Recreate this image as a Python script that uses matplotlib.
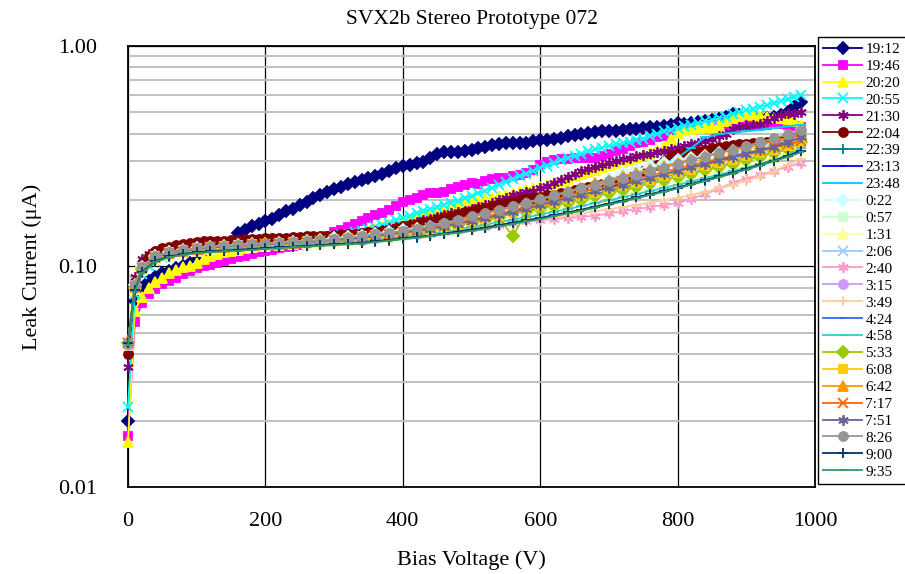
import matplotlib
matplotlib.use("Agg")
import matplotlib.pyplot as plt
from matplotlib.ticker import FixedLocator, NullFormatter

plt.rcParams['font.family'] = ['Liberation Serif', 'DejaVu Serif']

# bias voltage grids (V); the six loud series were read every 10 V, the band every 20 V
VOLTS_FINE = list(range(0, 990, 10))
VOLTS_COARSE = [0, 10] + list(range(20, 1000, 20))

# leak current, in units of 0.001 uA
I_1912 = [20, 70, 80, 86, 90, 93, 95, 98, 101, 104,
          107, 110, 113, 117, 122, 128, 142, 147, 152, 156,
          160, 165, 172, 178, 183, 190, 197, 205, 212, 218,
          224, 230, 236, 241, 246, 251, 256, 264, 270, 280,
          287, 290, 294, 298, 310, 325, 330, 331, 332, 335,
          338, 345, 350, 355, 361, 362, 363, 362, 364, 370,
          373, 376, 380, 384, 390, 395, 400, 405, 408, 410,
          412, 413, 416, 419, 421, 424, 428, 430, 432, 438,
          446, 443, 448, 452, 455, 462, 468, 475, 490, 488,
          480, 472, 470, 472, 478, 485, 500, 530, 560]
I_1946 = [17, 56, 68, 75, 79, 83, 86, 89, 92, 95,
          98, 100, 102, 104, 106, 108, 110, 112, 114, 116,
          118, 119, 121, 122, 124, 125, 128, 130, 133, 138,
          144, 147, 151, 156, 160, 166, 172, 174, 181, 189,
          196, 200, 205, 210, 216, 215, 218, 225, 230, 235,
          238, 237, 243, 250, 253, 252, 256, 260, 266, 275,
          288, 298, 303, 306, 308, 310, 312, 312, 312, 318,
          325, 333, 342, 352, 362, 368, 375, 385, 392, 400,
          408, 415, 422, 428, 432, 436, 435, 433, 436, 438,
          436, 435, 438, 440, 445, 442, 440, 435, 430]
I_2020 = [16, 63, 73, 80, 85, 89, 93, 96, 99, 101,
          104, 108, 112, 114, 116, 118, 119, 121, 122, 124,
          125, 126, 127, 128, 129, 130, 131, 132, 133, 134,
          135, 136, 138, 140, 142, 145, 148, 151, 154, 157,
          160, 163, 166, 169, 172, 176, 180, 184, 188, 192,
          196, 199, 202, 205, 208, 212, 215, 218, 222, 226,
          230, 235, 240, 245, 250, 256, 262, 268, 275, 282,
          290, 294, 298, 305, 312, 320, 328, 336, 350, 380,
          405, 415, 420, 425, 428, 430, 440, 455, 470, 480,
          490, 485, 480, 475, 470, 472, 468, 455, 440]
I_2055 = [23, 75, 92, 101, 106, 110, 113, 115, 117, 118,
          120, 121, 122, 123, 124, 125, 126, 126, 127, 128,
          128, 129, 130, 130, 131, 132, 133, 134, 135, 136,
          137, 139, 141, 143, 145, 148, 151, 154, 158, 162,
          166, 170, 174, 178, 182, 186, 191, 195, 199, 204,
          209, 215, 221, 228, 235, 242, 250, 257, 264, 272,
          280, 287, 295, 303, 311, 318, 325, 333, 340, 346,
          352, 358, 362, 368, 374, 380, 390, 400, 410, 418,
          425, 432, 440, 447, 455, 462, 470, 478, 490, 500,
          510, 520, 530, 540, 552, 562, 575, 590, 600]
I_2130 = [35, 90, 108, 114, 117, 119, 121, 122, 123, 124,
          125, 126, 127, 127, 128, 128, 129, 129, 130, 130,
          131, 131, 132, 132, 133, 134, 134, 135, 136, 137,
          138, 139, 140, 141, 142, 144, 145, 147, 149, 151,
          153, 156, 159, 162, 165, 168, 171, 174, 176, 179,
          182, 186, 190, 195, 200, 205, 210, 214, 217, 220,
          226, 232, 240, 248, 255, 262, 270, 276, 282, 288,
          295, 300, 306, 312, 316, 320, 325, 330, 335, 340,
          346, 352, 358, 364, 372, 380, 390, 400, 420, 430,
          435, 440, 445, 455, 470, 485, 495, 490, 500]
I_2204 = [40, 85, 104, 112, 117, 121, 123, 125, 127, 128,
          129, 130, 130, 131, 131, 132, 132, 133, 133, 133,
          134, 134, 135, 135, 136, 136, 137, 137, 138, 138,
          139, 140, 141, 141, 142, 143, 144, 145, 147, 149,
          152, 154, 156, 159, 161, 164, 167, 170, 173, 176,
          179, 182, 185, 188, 191, 194, 197, 200, 203, 205,
          207, 210, 212, 215, 218, 222, 226, 229, 233, 236,
          240, 245, 250, 256, 262, 270, 280, 290, 302, 318,
          325, 328, 331, 335, 339, 343, 347, 351, 355, 358,
          361, 364, 366, 368, 370, 372, 375, 378, 382]

I_2239 = [44, 76, 93, 105, 110, 113, 115, 117, 118, 119, 120, 121, 122, 123, 124, 125,
          126, 127, 128, 129, 131, 133, 135, 137, 140, 143, 146, 149, 153, 157, 161, 165,
          170, 175, 180, 186, 192, 198, 205, 212, 219, 227, 236, 245, 255, 265, 276, 288,
          301, 322, 338]
I_2313 = [44, 80, 98, 110, 115, 118, 120, 122, 123, 124, 125, 126, 127, 128, 129, 130,
          132, 133, 135, 137, 139, 142, 145, 148, 152, 156, 160, 165, 170, 176, 182, 188,
          195, 202, 209, 216, 224, 232, 241, 250, 259, 269, 279, 290, 301, 313, 325, 338,
          355, 380, 408]
I_2348 = [44, 81, 99, 111, 116, 119, 121, 123, 124, 125, 126, 127, 128, 129, 130, 132,
          134, 136, 138, 141, 144, 147, 150, 154, 158, 163, 168, 174, 180, 187, 194, 201,
          209, 217, 226, 235, 245, 252, 262, 275, 292, 312, 345, 385, 398, 405, 410, 418,
          425, 432, 440]
I_0022 = [45, 82, 99, 111, 116, 119, 121, 123, 124, 125, 126, 127, 128, 129, 130, 132,
          134, 136, 138, 140, 143, 146, 148, 151, 154, 157, 160, 163, 166, 170, 174, 178,
          185, 195, 210, 225, 250, 265, 275, 285, 295, 303, 310, 318, 326, 334, 342, 350,
          360, 370, 385]
I_0057 = [45, 81, 99, 111, 116, 119, 121, 123, 124, 125, 126, 127, 128, 129, 130, 131,
          133, 135, 137, 139, 142, 145, 147, 150, 153, 157, 161, 165, 169, 174, 179, 184,
          190, 196, 202, 208, 215, 222, 229, 237, 245, 253, 262, 271, 280, 290, 300, 311,
          323, 340, 362]
I_0131 = [44, 79, 96, 108, 113, 116, 118, 120, 121, 122, 123, 124, 125, 126, 127, 128,
          130, 131, 132, 134, 136, 139, 141, 144, 147, 151, 155, 159, 163, 167, 172, 177,
          182, 188, 194, 200, 206, 213, 220, 227, 235, 243, 251, 260, 269, 279, 289, 300,
          312, 325, 348]
I_0206 = [45, 82, 99, 110, 115, 118, 120, 122, 123, 124, 125, 126, 127, 128, 129, 130,
          132, 133, 135, 137, 140, 143, 146, 149, 153, 157, 162, 167, 172, 178, 184, 190,
          197, 204, 211, 218, 226, 234, 243, 252, 261, 271, 281, 292, 303, 315, 327, 340,
          356, 377, 405]
I_0240 = [45, 80, 97, 108, 113, 116, 118, 120, 121, 122, 123, 124, 125, 126, 127, 128,
          129, 130, 131, 133, 135, 137, 139, 141, 143, 146, 149, 151, 154, 157, 160, 162,
          164, 166, 168, 170, 174, 178, 182, 186, 190, 194, 203, 213, 225, 240, 250, 260,
          271, 283, 296]
I_0315 = [44, 81, 99, 110, 116, 119, 121, 123, 124, 125, 126, 127, 128, 129, 130, 131,
          133, 134, 136, 138, 140, 143, 145, 148, 152, 156, 160, 164, 169, 174, 179, 185,
          191, 197, 203, 210, 217, 224, 232, 240, 248, 257, 266, 276, 286, 296, 307, 318,
          330, 343, 365]
I_0349 = [44, 79, 96, 107, 112, 115, 117, 119, 120, 121, 122, 123, 124, 125, 126, 127,
          128, 129, 130, 132, 134, 136, 138, 140, 143, 146, 149, 152, 155, 158, 161, 164,
          167, 170, 174, 178, 182, 186, 190, 195, 200, 205, 211, 218, 226, 235, 245, 256,
          269, 290, 308]
I_0424 = [45, 81, 98, 110, 115, 118, 120, 122, 123, 124, 125, 126, 127, 128, 129, 130,
          131, 133, 135, 137, 139, 142, 144, 147, 151, 155, 159, 164, 169, 174, 180, 186,
          192, 199, 206, 213, 221, 229, 237, 246, 255, 265, 275, 285, 296, 307, 319, 332,
          348, 375, 405]
I_0458 = [44, 78, 95, 107, 112, 115, 117, 119, 120, 121, 122, 123, 124, 125, 126, 127,
          128, 129, 130, 132, 134, 136, 138, 141, 144, 147, 151, 155, 159, 163, 167, 172,
          177, 182, 188, 194, 200, 206, 213, 220, 227, 235, 243, 252, 261, 271, 281, 292,
          304, 318, 345]
I_0533 = [45, 80, 97, 109, 114, 117, 119, 121, 123, 124, 125, 126, 127, 128, 129, 130,
          131, 133, 135, 137, 139, 141, 144, 147, 150, 154, 158, 162, 167, 137, 177, 183,
          189, 195, 201, 208, 215, 222, 230, 238, 246, 255, 264, 273, 283, 293, 304, 315,
          327, 340, 365]
I_0608 = [45, 80, 97, 109, 114, 117, 119, 121, 122, 123, 124, 125, 126, 127, 128, 129,
          131, 132, 134, 136, 138, 141, 144, 147, 151, 155, 160, 165, 170, 176, 182, 188,
          195, 202, 209, 216, 224, 232, 240, 248, 257, 266, 275, 285, 295, 305, 316, 327,
          339, 351, 366]
I_0642 = [46, 83, 99, 110, 115, 118, 120, 122, 123, 124, 125, 126, 127, 128, 129, 130,
          132, 134, 136, 138, 141, 144, 147, 151, 155, 161, 167, 173, 179, 186, 194, 202,
          210, 219, 228, 238, 248, 257, 266, 276, 286, 296, 306, 317, 327, 337, 348, 359,
          370, 384, 400]
I_0717 = [45, 81, 98, 110, 115, 118, 120, 122, 123, 124, 125, 126, 127, 128, 129, 130,
          132, 133, 135, 137, 140, 143, 146, 149, 153, 158, 163, 168, 174, 180, 187, 194,
          201, 209, 217, 225, 233, 241, 250, 259, 268, 278, 288, 298, 308, 318, 328, 338,
          348, 358, 370]
I_0751 = [45, 81, 98, 110, 115, 118, 120, 122, 123, 124, 125, 126, 127, 128, 129, 130,
          132, 133, 135, 137, 140, 142, 145, 148, 152, 156, 161, 166, 171, 177, 183, 190,
          197, 204, 211, 219, 227, 235, 244, 253, 262, 272, 282, 292, 303, 314, 325, 336,
          348, 366, 385]
I_0826 = [45, 82, 99, 111, 116, 119, 121, 123, 124, 125, 126, 127, 128, 129, 130, 131,
          133, 135, 137, 140, 142, 145, 148, 152, 157, 163, 170, 175, 181, 188, 195, 203,
          210, 218, 226, 234, 244, 252, 261, 271, 281, 292, 303, 315, 326, 339, 352, 366,
          381, 397, 414]
I_0900 = [45, 78, 94, 106, 111, 114, 116, 117, 118, 119, 120, 121, 122, 123, 124, 125,
          126, 127, 128, 130, 132, 134, 136, 138, 141, 144, 147, 150, 154, 158, 162, 166,
          171, 176, 181, 187, 193, 199, 206, 213, 220, 228, 237, 246, 256, 266, 277, 289,
          302, 317, 335]
I_0935 = [44, 77, 93, 105, 110, 113, 115, 116, 117, 118, 119, 120, 121, 122, 123, 124,
          125, 126, 127, 129, 131, 133, 135, 137, 140, 142, 145, 148, 152, 156, 160, 164,
          169, 174, 179, 185, 191, 197, 204, 211, 218, 226, 235, 244, 254, 264, 275, 287,
          300, 314, 330]

LABELS = ["19:12", "19:46", "20:20", "20:55", "21:30", "22:04", "22:39", "23:13", "23:48",
          "0:22", "0:57", "1:31", "2:06", "2:40", "3:15", "3:49", "4:24", "4:58", "5:33",
          "6:08", "6:42", "7:17", "7:51", "8:26", "9:00", "9:35"]
SERIES = [I_1912, I_1946, I_2020, I_2055, I_2130, I_2204, I_2239, I_2313, I_2348,
          I_0022, I_0057, I_0131, I_0206, I_0240, I_0315, I_0349, I_0424, I_0458, I_0533,
          I_0608, I_0642, I_0717, I_0751, I_0826, I_0900, I_0935]

# old Excel palette and marker cycle
COLORS = ["#000080", "#FF00FF", "#FFFF00", "#00FFFF", "#800080", "#800000", "#008080",
          "#0000FF", "#00CCFF", "#CCFFFF", "#CCFFCC", "#FFFF99", "#99CCFF", "#FF99CC",
          "#CC99FF", "#FFCC99", "#3366FF", "#33CCCC", "#99CC00", "#FFCC00", "#FF9900",
          "#FF6600", "#666699", "#969696", "#003366", "#339966"]
ASTER = (6, 2, 0)
MARKERS = [("D", 6), ("s", 6), ("^", 7), ("x", 6.5), (ASTER, 7.5), ("o", 6.5), ("+", 7.5),
           ("_", 4), ("_", 7)]


fig = plt.figure(figsize=(9.05, 5.74), dpi=100)
ax = fig.add_axes([0.1414, 0.1516, 0.7592, 0.7683])

for i, (lab, vals) in enumerate(zip(LABELS, SERIES)):
    volts = VOLTS_FINE if len(vals) == len(VOLTS_FINE) else VOLTS_COARSE
    mk, ms = MARKERS[i % 9]
    ax.plot(volts, [v / 1000 for v in vals], color=COLORS[i], lw=1.3,
            marker=mk, markersize=ms, markeredgewidth=1.3,
            markerfacecolor=COLORS[i], markeredgecolor=COLORS[i], label=lab,
            zorder=3 + i * 0.01, clip_on=False)

ax.set_yscale("log")
ax.set_xlim(0, 1000)
ax.set_ylim(0.01, 1)
ax.set_xticks([0, 200, 400, 600, 800, 1000])
ax.yaxis.set_major_locator(FixedLocator([0.01, 0.1, 1]))
ax.set_yticklabels(["0.01", "0.10", "1.00"])
ax.yaxis.set_minor_locator(FixedLocator([k * 0.01 for k in range(2, 10)] + [k * 0.1 for k in range(2, 10)]))
ax.yaxis.set_minor_formatter(NullFormatter())
ax.tick_params(axis="both", which="both", length=0, labelsize=16)
ax.tick_params(axis="y", pad=22)
ax.tick_params(axis="x", pad=18)

ax.grid(True, which="minor", axis="y", color="#C0C0C0", lw=1.4, zorder=1)
ax.grid(True, which="major", axis="both", color="black", lw=0.9, zorder=1)
ax.set_axisbelow(True)
for sp in ax.spines.values():
    sp.set_linewidth(1.3)
    sp.set_color("black")

ax.set_title("SVX2b Stereo Prototype 072", fontsize=15.5, pad=16)
ax.set_ylabel("Leak Current (\u03bcA)", fontsize=16, labelpad=12)
ax.set_xlabel("Bias Voltage (V)", fontsize=16, labelpad=14)

leg = fig.legend(loc="upper left", bbox_to_anchor=(0.904, 0.9355), fontsize=11,
                 frameon=True, fancybox=False, edgecolor="black", framealpha=1,
                 handlelength=2.5, handletextpad=0.25, labelspacing=0.21,
                 borderpad=0.35, borderaxespad=0)
leg.get_frame().set_linewidth(1.0)

fig.savefig("out.png", dpi=100)
